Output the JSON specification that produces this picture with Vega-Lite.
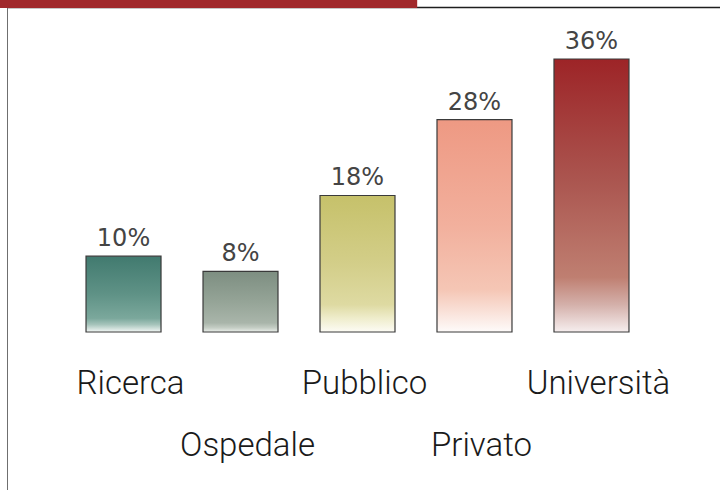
{
  "$schema": "https://vega.github.io/schema/vega-lite/v6.json",
  "width": 714,
  "height": 483,
  "autosize": {"type": "none"},
  "padding": {"left": 7, "top": 7, "right": 0, "bottom": 0},
  "background": "white",
  "config": {"view": {"stroke": null}},
  "datasets": {
    "sectors": [
      {"cat": "Ricerca", "value": 0.10},
      {"cat": "Ospedale", "value": 0.08},
      {"cat": "Pubblico", "value": 0.18},
      {"cat": "Privato", "value": 0.28},
      {"cat": "Università", "value": 0.36}
    ]
  },
  "resolve": {"scale": {"x": "independent"}, "axis": {"y": "independent"}},
  "layer": [
    {
      "data": {"name": "sectors"},
      "encoding": {
        "x": {"field": "cat", "type": "nominal", "sort": null,
              "scale": {"range": [-1, 702], "paddingInner": 0.359, "paddingOuter": 0.684},
              "axis": null},
        "y": {"field": "value", "type": "quantitative",
              "scale": {"domain": [-0.2084, 0.4286], "nice": false, "zero": false},
              "axis": {"domain": true, "domainColor": "#6f6f6f", "domainWidth": 1, "ticks": false, "labels": false, "grid": false, "title": null}}
      },
      "layer": [
        {
          "transform": [{"filter": "datum.cat === 'Ricerca'"}],
          "mark": {"type": "bar", "stroke": "#3a3a3a", "strokeWidth": 1.2,
            "fill": {"gradient": "linear", "x1": 0, "y1": 0, "x2": 0, "y2": 1, "stops": [
              {"offset": 0, "color": "#417a6f"},
              {"offset": 0.5, "color": "#5f9286"},
              {"offset": 0.82, "color": "#7ba89c"},
              {"offset": 0.9, "color": "#a5c3ba"},
              {"offset": 1, "color": "#f3f7f5"}]}}
        },
        {
          "transform": [{"filter": "datum.cat === 'Ospedale'"}],
          "mark": {"type": "bar", "stroke": "#3a3a3a", "strokeWidth": 1.2,
            "fill": {"gradient": "linear", "x1": 0, "y1": 0, "x2": 0, "y2": 1, "stops": [
              {"offset": 0, "color": "#7d8e81"},
              {"offset": 0.5, "color": "#95a497"},
              {"offset": 0.85, "color": "#a9b5aa"},
              {"offset": 0.93, "color": "#c4cdc4"},
              {"offset": 1, "color": "#eaeeea"}]}}
        },
        {
          "transform": [{"filter": "datum.cat === 'Pubblico'"}],
          "mark": {"type": "bar", "stroke": "#3a3a3a", "strokeWidth": 1.2,
            "fill": {"gradient": "linear", "x1": 0, "y1": 0, "x2": 0, "y2": 1, "stops": [
              {"offset": 0, "color": "#c6c16a"},
              {"offset": 0.5, "color": "#d3ce89"},
              {"offset": 0.8, "color": "#dedaa2"},
              {"offset": 0.9, "color": "#efedcc"},
              {"offset": 1, "color": "#fdfcf5"}]}}
        },
        {
          "transform": [{"filter": "datum.cat === 'Privato'"}],
          "mark": {"type": "bar", "stroke": "#3a3a3a", "strokeWidth": 1.2,
            "fill": {"gradient": "linear", "x1": 0, "y1": 0, "x2": 0, "y2": 1, "stops": [
              {"offset": 0, "color": "#ee9983"},
              {"offset": 0.5, "color": "#f2b09d"},
              {"offset": 0.8, "color": "#f5c6b5"},
              {"offset": 0.9, "color": "#f9e0d7"},
              {"offset": 1, "color": "#fefbfa"}]}}
        },
        {
          "transform": [{"filter": "datum.cat === 'Università'"}],
          "mark": {"type": "bar", "stroke": "#3a3a3a", "strokeWidth": 1.2,
            "fill": {"gradient": "linear", "x1": 0, "y1": 0, "x2": 0, "y2": 1, "stops": [
              {"offset": 0, "color": "#9d2427"},
              {"offset": 0.45, "color": "#ab5650"},
              {"offset": 0.8, "color": "#bf7f71"},
              {"offset": 0.9, "color": "#d4b0aa"},
              {"offset": 1, "color": "#f6eeee"}]}}
        },
        {
          "mark": {"type": "text", "font": "DejaVu Sans", "fontSize": 24, "color": "#444444", "baseline": "alphabetic", "dy": -10},
          "encoding": {"text": {"field": "value", "type": "quantitative", "format": ".0%"}}
        },
        {
          "transform": [{"filter": {"field": "cat", "oneOf": ["Ricerca", "Pubblico", "Università"]}}],
          "mark": {"type": "text", "font": "Roboto", "fontWeight": 300, "fontSize": 33, "color": "#1a1a1a", "baseline": "alphabetic", "dx": 7},
          "encoding": {"text": {"field": "cat"}, "y": {"datum": -0.0817, "type": "quantitative"}}
        },
        {
          "transform": [{"filter": {"field": "cat", "oneOf": ["Ospedale", "Privato"]}}],
          "mark": {"type": "text", "font": "Roboto", "fontWeight": 300, "fontSize": 33, "color": "#1a1a1a", "baseline": "alphabetic", "dx": 7},
          "encoding": {"text": {"field": "cat"}, "y": {"datum": -0.1635, "type": "quantitative"}}
        }
      ]
    },
    {
      "data": {"values": [{"part": "header"}]},
      "mark": {"type": "rect", "color": "#a0282b", "clip": false},
      "encoding": {
        "x": {"datum": -0.0099, "type": "quantitative",
              "scale": {"domain": [0, 1], "nice": false, "zero": false},
              "axis": {"orient": "top", "domain": true, "domainColor": "#1e1e1e", "domainWidth": 1.5, "ticks": false, "labels": false, "grid": false, "title": null}},
        "x2": {"datum": 0.5745},
        "y": {"datum": 0.4378, "type": "quantitative", "axis": null},
        "y2": {"datum": 0.4273}
      }
    }
  ]
}
